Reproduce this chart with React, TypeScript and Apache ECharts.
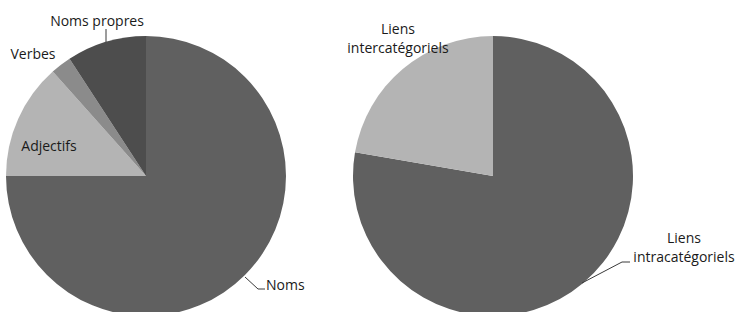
import React, { useEffect, useRef } from "react";
import * as echarts from "echarts";

const leftCategories = ["Noms", "Adjectifs", "Verbes", "Noms propres"];
const leftValues = [75, 13.4, 2.4, 9.2];
const leftColors = ["#606060", "#b4b4b4", "#8b8b8b", "#4d4d4d"];

const rightCategories = ["Liens intracatégoriels", "Liens intercatégoriels"];
const rightValues = [77.7, 22.3];
const rightColors = ["#606060", "#b4b4b4"];

const FONT = "'Open Sans', 'Noto Sans', sans-serif";
const FONT_SIZE = 14;

export default function App() {
  const ref = useRef<HTMLDivElement>(null);
  useEffect(() => {
    document.body.style.margin = "0";
    if (!ref.current) return;
    const chart = echarts.init(ref.current, null, { renderer: "svg" });

    const labelStyle = (text: string, x: number, y: number, align = "center") => ({
      type: "text",
      x,
      y,
      style: {
        text,
        fill: "#1a1a1a",
        font: `${FONT_SIZE}px ${FONT}`,
        align,
        verticalAlign: "middle",
        lineHeight: 19,
      },
      z: 10,
    });
    const leader = (points: number[][]) => ({
      type: "polyline",
      shape: { points },
      style: { stroke: "#3a3a3a", lineWidth: 1, fill: null },
      z: 10,
    });

    const option: any = {
      animation: false,
      backgroundColor: "#ffffff",
      series: [
        {
          type: "pie",
          center: [146, 176],
          radius: 140,
          startAngle: 90,
          clockwise: true,
          label: { show: false },
          labelLine: { show: false },
          emphasis: { disabled: true },
          itemStyle: { borderWidth: 0 },
          data: leftCategories.map((name, i) => ({
            name,
            value: leftValues[i],
            itemStyle: { color: leftColors[i] },
          })),
        },
        {
          type: "pie",
          center: [493, 176],
          radius: 140,
          startAngle: 90,
          clockwise: true,
          label: { show: false },
          labelLine: { show: false },
          emphasis: { disabled: true },
          itemStyle: { borderWidth: 0 },
          data: rightCategories.map((name, i) => ({
            name,
            value: rightValues[i],
            itemStyle: { color: rightColors[i] },
          })),
        },
      ],
      graphic: [
        labelStyle(leftCategories[3], 97, 20),
        leader([[106, 29], [106, 42]]),
        labelStyle(leftCategories[2], 33, 53),
        labelStyle(leftCategories[1], 49, 145),
        labelStyle(leftCategories[0], 266, 284, "left"),
        leader([[245, 277], [258, 289], [265, 289]]),
        labelStyle("Liens\nintercatégoriels", 398, 38),
        labelStyle("Liens\nintracatégoriels", 684, 247),
        leader([[582, 283], [622, 262], [630, 262]]),
      ],
    };
    chart.setOption(option);
    return () => chart.dispose();
  }, []);
  return <div ref={ref} style={{ width: 738, height: 312 }} />;
}
